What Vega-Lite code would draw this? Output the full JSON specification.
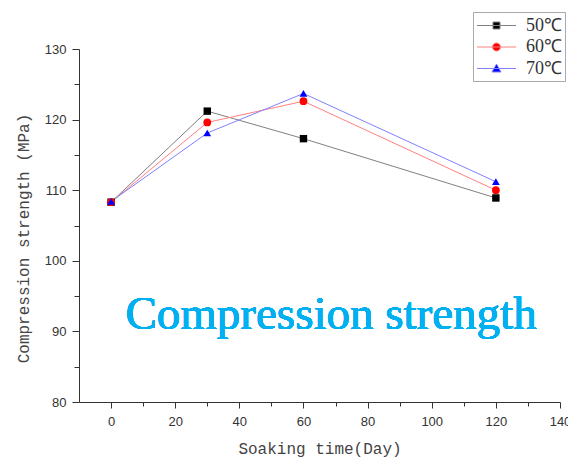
{
  "$schema": "https://vega.github.io/schema/vega-lite/v6.json",
  "width": 481,
  "height": 353,
  "autosize": {"type": "none"},
  "padding": {"left": 79, "top": 49, "right": 8, "bottom": 56},
  "background": "white",
  "config": {
    "view": {"stroke": null},
    "axis": {
      "grid": false,
      "domainColor": "#333",
      "tickColor": "#333",
      "labelColor": "#333",
      "labelFont": "Liberation Sans",
      "labelFontSize": 13,
      "titleFont": "Liberation Mono",
      "titleFontSize": 16,
      "titleFontWeight": "normal",
      "titleColor": "#444"
    }
  },
  "data": {
    "values": [
      {"day": 0, "strength": 108.3, "T": "50℃"},
      {"day": 30, "strength": 121.2, "T": "50℃"},
      {"day": 60, "strength": 117.3, "T": "50℃"},
      {"day": 120, "strength": 108.9, "T": "50℃"},
      {"day": 0, "strength": 108.3, "T": "60℃"},
      {"day": 30, "strength": 119.6, "T": "60℃"},
      {"day": 60, "strength": 122.6, "T": "60℃"},
      {"day": 120, "strength": 110.0, "T": "60℃"},
      {"day": 0, "strength": 108.4, "T": "70℃"},
      {"day": 30, "strength": 118.1, "T": "70℃"},
      {"day": 60, "strength": 123.7, "T": "70℃"},
      {"day": 120, "strength": 111.2, "T": "70℃"}
    ]
  },
  "encoding": {
    "x": {
      "field": "day",
      "type": "quantitative",
      "scale": {"domain": [-10, 140], "nice": false, "zero": false},
      "axis": {
        "title": "Soaking time(Day)",
        "values": [0, 10, 20, 30, 40, 50, 60, 70, 80, 90, 100, 110, 120, 130, 140],
        "labelExpr": "datum.value % 20 === 0 ? datum.label : ''",
        "tickSize": {"condition": {"test": "datum.value % 20 === 0", "value": 6}, "value": 4},
        "labelPadding": 7,
        "titlePadding": 12,
        "labelFlush": false,
        "labelOverlap": false
      }
    },
    "y": {
      "field": "strength",
      "type": "quantitative",
      "scale": {"domain": [80, 130], "nice": false, "zero": false},
      "axis": {
        "title": "Compression strength (MPa)",
        "values": [80, 85, 90, 95, 100, 105, 110, 115, 120, 125, 130],
        "labelExpr": "datum.value % 10 === 0 ? datum.label : ''",
        "tickSize": {"condition": {"test": "datum.value % 10 === 0", "value": 7}, "value": 5},
        "labelPadding": 6,
        "titleX": -48,
        "titleY": 189,
        "labelFlush": false,
        "labelOverlap": false
      }
    }
  },
  "layer": [
    {
      "transform": [{"filter": "datum.T === '50℃'"}],
      "mark": {"type": "line", "strokeWidth": 1, "color": "#808080"}
    },
    {
      "transform": [{"filter": "datum.T === '60℃'"}],
      "mark": {"type": "line", "strokeWidth": 1, "color": "#ff8080"}
    },
    {
      "transform": [{"filter": "datum.T === '70℃'"}],
      "mark": {"type": "line", "strokeWidth": 1, "color": "#8080ff"}
    },
    {
      "transform": [{"filter": "datum.T === '50℃'"}],
      "mark": {"type": "point", "filled": true, "opacity": 1, "size": 55, "shape": "square"},
      "encoding": {
        "color": {
          "field": "T",
          "type": "nominal",
          "scale": {"domain": ["50℃", "60℃", "70℃"], "range": ["#000000", "#ff0000", "#0000ff"]},
          "legend": {
            "title": null,
            "orient": "none",
            "legendX": 394,
            "legendY": -37,
            "strokeColor": "#aaaaaa",
            "padding": 3,
            "fillColor": "white",
            "symbolSize": 400,
            "symbolOffset": 10,
            "symbolStrokeWidth": 1,
            "symbolOpacity": 1,
            "labelFont": "Liberation Serif",
            "labelFontSize": 18,
            "labelColor": "#333",
            "labelOffset": 19,
            "rowPadding": 1.5,
            "encode": {
              "symbols": {
                "update": {
                  "shape": {"signal": "datum.value === '50℃' ? 'M-1.95,0H1.95M-0.35,-0.35H0.35V0.35H-0.35Z' : datum.value === '60℃' ? 'M-1.95,0H1.95M0.4,0A0.4,0.4,0,1,1,-0.4,0A0.4,0.4,0,1,1,0.4,0Z' : 'M-1.95,0H1.95M0,-0.45L0.45,0.35L-0.45,0.35Z'"},
                  "stroke": {"signal": "datum.value === '50℃' ? '#808080' : datum.value === '60℃' ? '#ff8080' : '#8080ff'"},
                  "strokeWidth": {"value": 1},
                  "opacity": {"value": 1}
                }
              }
            }
          }
        }
      }
    },
    {
      "transform": [{"filter": "datum.T === '60℃'"}],
      "mark": {"type": "point", "filled": true, "opacity": 1, "size": 60, "shape": "circle"},
      "encoding": {
        "color": {
          "field": "T",
          "type": "nominal",
          "scale": {"domain": ["50℃", "60℃", "70℃"], "range": ["#000000", "#ff0000", "#0000ff"]}
        }
      }
    },
    {
      "transform": [{"filter": "datum.T === '70℃'"}],
      "mark": {"type": "point", "filled": true, "opacity": 1, "size": 60, "shape": "triangle-up"},
      "encoding": {
        "color": {
          "field": "T",
          "type": "nominal",
          "scale": {"domain": ["50℃", "60℃", "70℃"], "range": ["#000000", "#ff0000", "#0000ff"]}
        }
      }
    },
    {
      "mark": {
        "type": "text",
        "font": "Liberation Serif",
        "fontSize": 47,
        "color": "#00b0f0",
        "align": "center",
        "baseline": "alphabetic"
      },
      "encoding": {
        "x": {"datum": 68.6, "type": "quantitative"},
        "y": {"datum": 90.3, "type": "quantitative"},
        "text": {"value": "Compression strength"}
      }
    }
  ]
}
